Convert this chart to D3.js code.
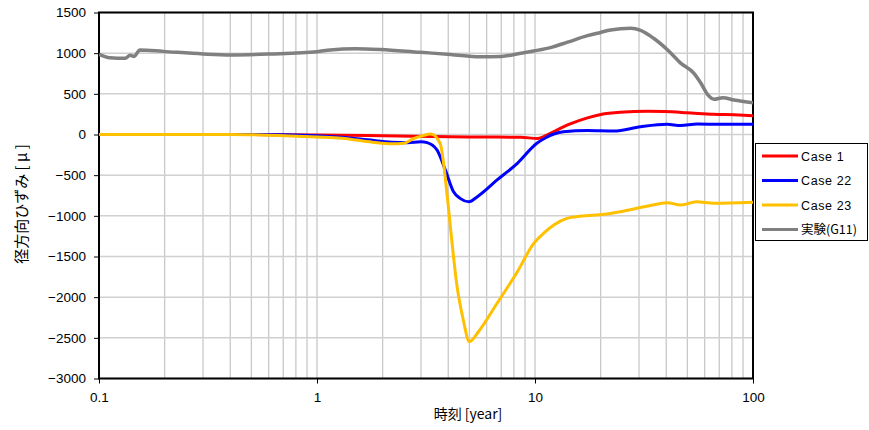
<!DOCTYPE html>
<html>
<head>
<meta charset="utf-8">
<script src="https://cdn.jsdelivr.net/npm/d3@7"></script>
<style>
  body { margin: 0; background: #fff; }
  text { font-family: "Liberation Sans", Arial, sans-serif; }
  .jp { font-family: "Noto Sans CJK JP", "Liberation Sans", sans-serif; }
</style>
</head>
<body>
<svg width="869" height="430"></svg>
<script>
// values
let seriesNames = ["Case 1", "Case 22", "Case 23", "実験(G11)"]
let seriesColors = ["#ff0000", "#0000ff", "#ffc000", "#808080"]

let timeCase1 = [0.1, 0.5, 1, 2, 5, 8.6, 10.3, 11.2, 12.2, 14.5, 17.4, 20.8, 24.6, 33, 39, 49.7, 66, 82, 100]
let valCase1 = [0, 0, -5, -15, -30, -35, -48, -15, 35, 130, 205, 255, 275, 285, 282, 268, 248, 242, 232]

let timeCase22 = [0.1, 0.5, 0.7, 1, 1.3, 1.7, 2.2, 2.6, 3.0, 3.2, 3.55, 3.88, 4.23, 4.53, 4.98, 5.44, 6.7, 8.3, 10.2, 11.2, 12.2, 13.5, 17.4, 23, 30.5, 40.4, 46.6, 55.4, 72, 100]
let valCase22 = [0, 0, -3, -15, -35, -65, -95, -100, -90, -100, -190, -437, -703, -785, -826, -764, -559, -354, -108, -40, 6, 35, 48, 42, 95, 125, 110, 128, 125, 125]

let timeCase23 = [0.1, 0.4, 0.6, 1, 1.3, 1.8, 2.2, 2.5, 2.77, 3.05, 3.33, 3.67, 3.96, 4.15, 4.37, 4.69, 5.0, 5.5, 6.7, 8.3, 9.87, 11, 12.2, 14, 16.3, 20.8, 24.6, 33, 40.4, 46.6, 55, 66, 100]
let valCase23 = [0, 0, -8, -30, -45, -95, -115, -108, -50, -15, 5, -108, -764, -1297, -1830, -2281, -2548, -2425, -2075, -1687, -1338, -1210, -1113, -1031, -1002, -981, -949, -879, -838, -867, -826, -846, -834]

let timeG11 = [0.1, 0.112, 0.132, 0.139, 0.145, 0.154, 0.197, 0.3, 0.4, 0.61, 1, 1.15, 1.5, 1.96, 2.98, 4.1, 5.6, 7.0, 8.6, 10, 12, 14.1, 17.4, 20, 22.2, 27.5, 30.5, 35, 40.6, 46.7, 53.6, 57.7, 62.1, 66.2, 72.8, 81.7, 100]
let valG11 = [985, 944, 937, 975, 960, 1040, 1022, 990, 978, 990, 1018, 1040, 1055, 1045, 1010, 985, 955, 960, 1000, 1030, 1075, 1135, 1215, 1255, 1285, 1305, 1280, 1183, 1039, 875, 752, 630, 486, 433, 453, 424, 391]

let yTicks = [1500, 1000, 500, 0, -500, -1000, -1500, -2000, -2500, -3000]
let xTicks = [0.1, 1, 10, 100]

let svg = d3.select("svg"),
    plotLeft = 99, plotRight = 753, plotTop = 12.5, plotBottom = 378.5

let xScale = d3.scaleLog().domain([0.1, 100]).range([plotLeft, plotRight]),
    yScale = d3.scaleLinear().domain([-3000, 1500]).range([plotBottom, plotTop])

// minor grid values 1..9 per decade
let gridX = []
for (let p = -1; p <= 1; p++) {
    for (let m = 1; m <= 9; m++) gridX.push(m * Math.pow(10, p))
}
gridX.push(100)

let g = svg.append("g")

g.selectAll(".vgrid")
    .data(gridX)
    .enter().append("line")
    .attr("x1", function (d) { return xScale(d); })
    .attr("x2", function (d) { return xScale(d); })
    .attr("y1", plotTop)
    .attr("y2", plotBottom)
    .attr("stroke", "#c8c8c8")
    .attr("stroke-width", 1.3)

g.selectAll(".hgrid")
    .data(yTicks)
    .enter().append("line")
    .attr("x1", plotLeft)
    .attr("x2", plotRight)
    .attr("y1", function (d) { return yScale(d); })
    .attr("y2", function (d) { return yScale(d); })
    .attr("stroke", "#d0d0d0")
    .attr("stroke-width", 1.5)

// axes
let yAxis = g.append("g")
    .attr("transform", "translate(" + plotLeft + ",0)")
    .call(d3.axisLeft(yScale).tickValues(yTicks).tickSize(5).tickPadding(8)
        .tickFormat(function (d) { return d < 0 ? "\u2212" + Math.abs(d) : d; }))
yAxis.select(".domain").remove()
yAxis.selectAll("text").attr("font-size", "13.5px").attr("fill", "#000")
    .style("font-family", "'Liberation Sans', Arial, sans-serif")

let xAxis = g.append("g")
    .attr("transform", "translate(0," + plotBottom + ")")
    .call(d3.axisBottom(xScale).tickValues(xTicks).tickSize(5).tickPadding(9)
        .tickFormat(function (d) { return d; }))
xAxis.select(".domain").remove()
xAxis.selectAll("text").attr("font-size", "13.5px").attr("fill", "#000")
    .style("font-family", "'Liberation Sans', Arial, sans-serif")

// plot frame
g.append("rect")
    .attr("x", plotLeft)
    .attr("y", plotTop)
    .attr("width", plotRight - plotLeft)
    .attr("height", plotBottom - plotTop)
    .attr("fill", "none")
    .attr("stroke", "#000")
    .attr("stroke-width", 2)

// series
let allSeries = [
    { t: timeCase1, v: valCase1 },
    { t: timeCase22, v: valCase22 },
    { t: timeCase23, v: valCase23 },
    { t: timeG11, v: valG11 }
]

let line = d3.line()
    .x(function (d) { return xScale(d[0]); })
    .y(function (d) { return yScale(d[1]); })
    .curve(d3.curveMonotoneX)

let clip = svg.append("clipPath").attr("id", "plotclip")
clip.append("rect").attr("x", plotLeft).attr("y", plotTop).attr("width", plotRight - plotLeft).attr("height", plotBottom - plotTop)

let lines = svg.append("g").attr("clip-path", "url(#plotclip)")
allSeries.forEach(function (s, i) {
    let pts = s.t.map(function (t, j) { return [t, s.v[j]]; })
    lines.append("path")
        .datum(pts)
        .attr("fill", "none")
        .attr("stroke", seriesColors[i])
        .attr("stroke-width", i == 3 ? 3.5 : 3)
        .attr("stroke-linejoin", "round")
        .attr("d", line)
})

// axis titles
svg.append("text")
    .attr("class", "jp")
    .attr("transform", "translate(27,204) rotate(-90)")
    .attr("text-anchor", "middle")
    .attr("font-size", "15px")
    .text("径方向ひずみ [ μ ]")

svg.append("text")
    .attr("class", "jp")
    .attr("x", 468)
    .attr("y", 419)
    .attr("text-anchor", "middle")
    .attr("font-size", "14px")
    .text("時刻 [year]")

// legend
let legend = svg.append("g")
legend.append("rect")
    .attr("x", 755.5)
    .attr("y", 143.5)
    .attr("width", 112)
    .attr("height", 97)
    .attr("fill", "#fff")
    .attr("stroke", "#000")
    .attr("stroke-width", 1)

let rowY = [156, 180.5, 205, 229.5]
seriesNames.forEach(function (name, i) {
    legend.append("line")
        .attr("x1", 762)
        .attr("x2", 798)
        .attr("y1", rowY[i])
        .attr("y2", rowY[i])
        .attr("stroke", seriesColors[i])
        .attr("stroke-width", 3)
    legend.append("text")
        .attr("class", i == 3 ? "jp" : null)
        .attr("x", 801)
        .attr("y", rowY[i] + 4.5)
        .attr("font-size", "12.5px")
        .attr("letter-spacing", i == 3 ? "0px" : "0.6px")
        .text(name)
})
</script>
</body>
</html>
